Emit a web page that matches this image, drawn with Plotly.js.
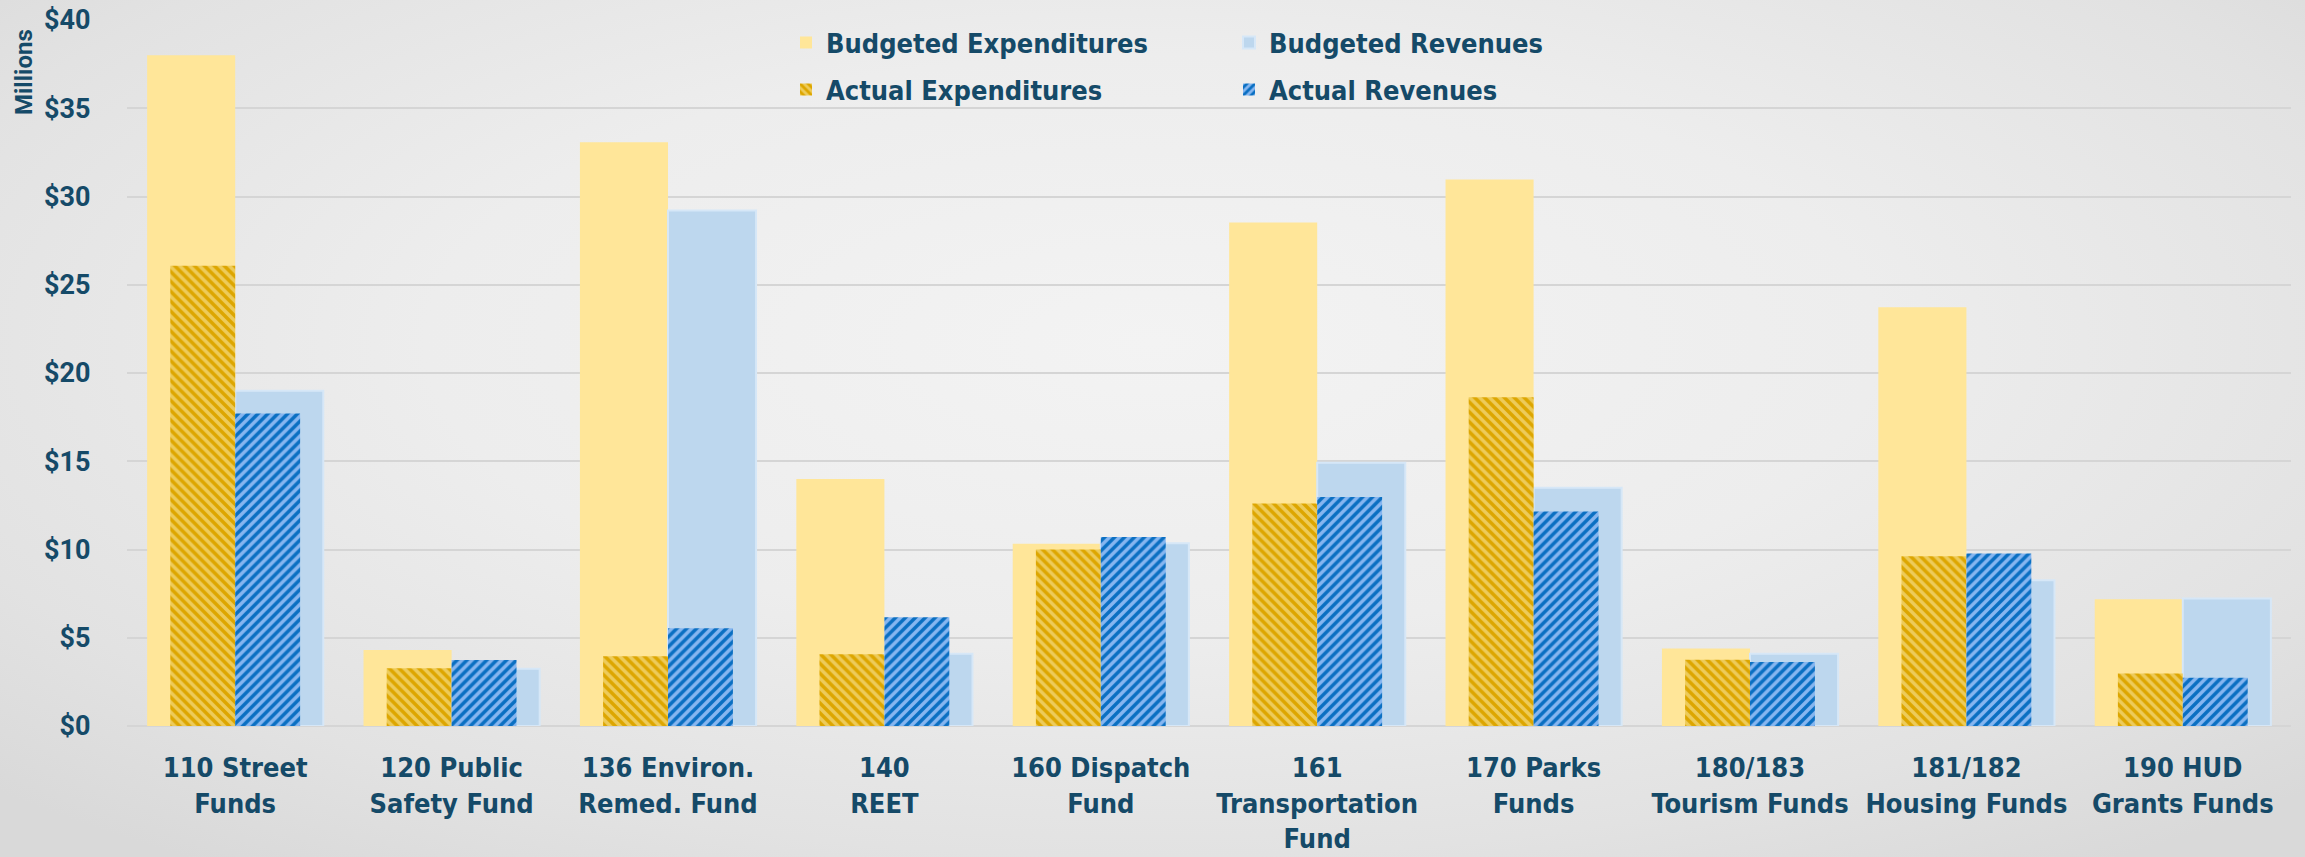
<!DOCTYPE html>
<html>
<head>
<meta charset="utf-8">
<script src="https://cdn.plot.ly/plotly-3.0.1.min.js"></script>
<style>
  html, body { margin: 0; padding: 0; }
  body {
    width: 2305px; height: 857px; overflow: hidden;
    background: radial-gradient(ellipse 70% 75% at 50% 40%, #F3F3F3 0%, #EDEDED 45%, #E2E2E2 80%, #D9D9D9 100%);
  }
  #chart { width: 2305px; height: 857px; }
</style>
</head>
<body>
<div id="chart"></div>
<script>
const categories = [
  "110 Street<br>Funds",
  "120 Public<br>Safety Fund",
  "136 Environ.<br>Remed. Fund",
  "140<br>REET",
  "160 Dispatch<br>Fund",
  "161<br>Transportation<br>Fund",
  "170 Parks<br>Funds",
  "180/183<br>Tourism Funds",
  "181/182<br>Housing Funds",
  "190 HUD<br>Grants Funds"
];
const budgetedExpenditures = [38.0, 4.3, 33.07, 13.99, 10.32, 28.52, 30.97, 4.39, 23.72, 7.18];
const budgetedRevenues     = [19.0, 3.25, 29.2, 4.1, 10.35, 14.91, 13.5, 4.1, 8.26, 7.22];
const actualExpenditures   = [26.08, 3.27, 3.95, 4.06, 10.0, 12.6, 18.62, 3.76, 9.62, 2.97];
const actualRevenues       = [17.7, 3.74, 5.54, 6.16, 10.71, 12.98, 12.15, 3.63, 9.77, 2.74];
const yTickValues = [0, 5, 10, 15, 20, 25, 30, 35, 40];
const yTickLabels = ["$0", "$5", "$10", "$15", "$20", "$25", "$30", "$35", "$40"];

const textColor = "#154A68";
const narrowFont = "'Liberation Sans Narrow', 'DejaVu Sans Condensed', 'Roboto', sans-serif";
const BW = 0.407, AW = 0.30;

const traces = [
  {
    type: "bar", name: "Budgeted Expenditures", x: categories, y: budgetedExpenditures,
    width: BW, offset: -BW,
    marker: { color: "#FFE699", line: { width: 0 } },
    legend: "legend", hoverinfo: "y+name"
  },
  {
    type: "bar", name: "Budgeted Revenues", x: categories, y: budgetedRevenues,
    width: BW, offset: 0,
    marker: { color: "#BDD7EE", line: { color: "#D6E7F7", width: 2 } },
    legend: "legend", hoverinfo: "y+name"
  },
  {
    type: "bar", name: "Actual Expenditures", x: categories, y: actualExpenditures,
    width: AW, offset: -AW,
    marker: {
      color: "#E6B620",
      line: { width: 0 },
      pattern: { shape: "\\", fgcolor: "#DDA600", bgcolor: "#EDCB5A", size: 7, solidity: 0.5, fillmode: "replace" }
    },
    legend: "legend2", hoverinfo: "y+name"
  },
  {
    type: "bar", name: "Actual Revenues", x: categories, y: actualRevenues,
    width: AW, offset: 0,
    marker: {
      color: "#3A8AD8",
      line: { width: 0 },
      pattern: { shape: "/", fgcolor: "#0A6FC2", bgcolor: "#86B6F0", size: 7, solidity: 0.5, fillmode: "replace" }
    },
    legend: "legend2", hoverinfo: "y+name"
  }
];

const W = 2305, H = 857;
const L = 127, R = 14, T = 20, B = 131;
const plotW = W - L - R, plotH = H - T - B;
const px = v => (v - L) / plotW;
const py = v => (H - B - v) / plotH;

const legendCommon = {
  orientation: "h", xanchor: "left", yanchor: "middle",
  bgcolor: "rgba(0,0,0,0)", borderwidth: 0,
  entrywidth: 398, entrywidthmode: "pixels",
  font: { family: narrowFont, size: 27, color: textColor, weight: "bold" },
  itemclick: false, itemdoubleclick: false
};

const layout = {
  width: W, height: H,
  margin: { l: L, r: R, t: T, b: B, pad: 0 },
  paper_bgcolor: "rgba(0,0,0,0)",
  plot_bgcolor: "rgba(0,0,0,0)",
  barmode: "overlay",
  showlegend: true,
  legend: Object.assign({ x: px(786), y: py(43) }, legendCommon),
  legend2: Object.assign({ x: px(786), y: py(90) }, legendCommon),
  xaxis: {
    type: "category",
    showgrid: false, zeroline: false, showline: false,
    ticks: "outside", ticklen: 18, tickcolor: "rgba(0,0,0,0)",
    tickfont: { family: narrowFont, size: 27, color: textColor, weight: "bold" },
    tickangle: 0, automargin: false
  },
  yaxis: {
    range: [0, 40], tickmode: "array", tickvals: yTickValues, ticktext: yTickLabels,
    showgrid: true, gridcolor: "#D5D5D5", gridwidth: 2,
    zeroline: true, zerolinecolor: "#D5D5D5", zerolinewidth: 2,
    showline: false,
    ticks: "outside", ticklen: 30, tickcolor: "rgba(0,0,0,0)",
    tickfont: { family: "Roboto, sans-serif", size: 27, color: textColor, weight: "bold" },
    automargin: false
  },
  annotations: [
    {
      text: "<b>Millions</b>", textangle: -90, showarrow: false,
      xref: "paper", yref: "paper", x: px(24), y: py(72),
      xanchor: "center", yanchor: "middle",
      font: { family: "Roboto, sans-serif", size: 24, color: textColor }
    }
  ]
};

Plotly.newPlot("chart", traces, layout, { displayModeBar: false, staticPlot: true });
</script>
</body>
</html>
